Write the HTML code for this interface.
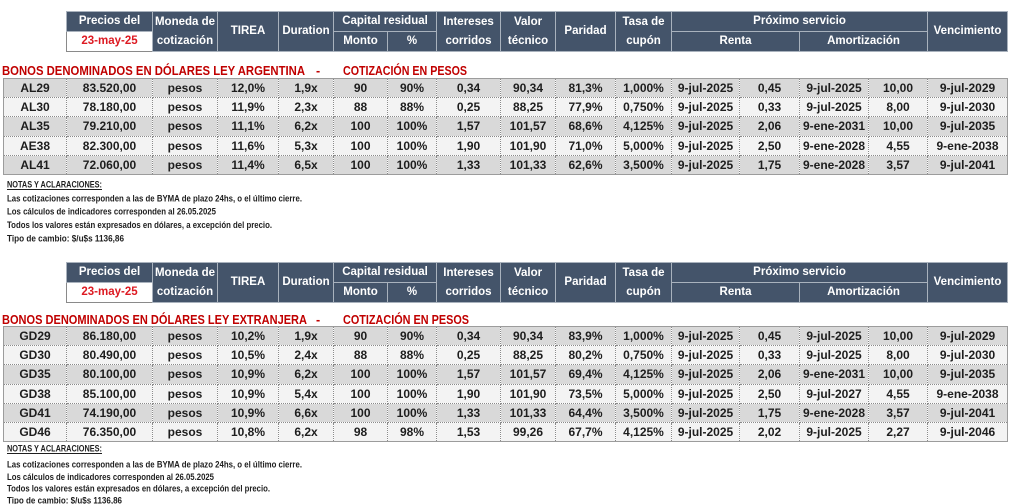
<!DOCTYPE html>
<html>
<head>
<meta charset="utf-8">
<style>
html,body{margin:0;padding:0;background:#fff;}
#pg{position:relative;width:1024px;height:504px;overflow:hidden;background:#fff;font-family:"Liberation Sans",Arial,sans-serif;}
table{border-collapse:collapse;table-layout:fixed;position:absolute;}
.hd{left:66px;width:941px;height:39px;}
.hd td{background:#44546a;color:#fff;font-weight:bold;font-size:11.5px;text-align:center;vertical-align:middle;padding:0;border:1px solid #a9b2bd;line-height:19px;height:18.5px;white-space:nowrap;overflow:hidden;}
.hd td.dt{background:#fff;color:#dd1a22;border:1px solid #8a8a8a;}
.dtab{left:3px;width:1004px;border:1px solid #9c9c9c;}
.dtab td{padding:0;height:18.2px;border:1px dotted #8a8a8a;text-align:center;vertical-align:middle;font-weight:bold;font-size:12px;color:#1e1e1e;white-space:nowrap;overflow:hidden;line-height:18px;}
.dtab tr.g td{background:#d9d9d9;}
.dtab tr.l td{background:#f3f3f3;}
svg{position:absolute;left:0;top:0;}
</style>
</head>
<body>
<div id="pg">

<!-- HEADER 1 -->
<table class="hd" style="top:11px;">
<colgroup><col style="width:86px"><col style="width:65px"><col style="width:61px"><col style="width:55px"><col style="width:54px"><col style="width:49px"><col style="width:64px"><col style="width:55px"><col style="width:60px"><col style="width:56px"><col style="width:68px"><col style="width:60px"><col style="width:69px"><col style="width:59px"><col style="width:80px"></colgroup>
<tr><td>Precios del</td><td rowspan="2">Moneda de<br>cotización</td><td rowspan="2">TIREA</td><td rowspan="2">Duration</td><td colspan="2">Capital residual</td><td rowspan="2">Intereses<br>corridos</td><td rowspan="2">Valor<br>técnico</td><td rowspan="2">Paridad</td><td rowspan="2">Tasa de<br>cupón</td><td colspan="4">Próximo servicio</td><td rowspan="2">Vencimiento</td></tr>
<tr><td class="dt">23-may-25</td><td>Monto</td><td>%</td><td colspan="2">Renta</td><td colspan="2">Amortización</td></tr>
</table>

<!-- DATA 1 -->
<table class="dtab" style="top:78px;">
<colgroup><col style="width:63px"><col style="width:86px"><col style="width:65px"><col style="width:61px"><col style="width:55px"><col style="width:54px"><col style="width:49px"><col style="width:64px"><col style="width:55px"><col style="width:60px"><col style="width:56px"><col style="width:68px"><col style="width:60px"><col style="width:69px"><col style="width:59px"><col style="width:80px"></colgroup>
<tr class="g"><td>AL29</td><td>83.520,00</td><td>pesos</td><td>12,0%</td><td>1,9x</td><td>90</td><td>90%</td><td>0,34</td><td>90,34</td><td>81,3%</td><td>1,000%</td><td>9-jul-2025</td><td>0,45</td><td>9-jul-2025</td><td>10,00</td><td>9-jul-2029</td></tr>
<tr class="l"><td>AL30</td><td>78.180,00</td><td>pesos</td><td>11,9%</td><td>2,3x</td><td>88</td><td>88%</td><td>0,25</td><td>88,25</td><td>77,9%</td><td>0,750%</td><td>9-jul-2025</td><td>0,33</td><td>9-jul-2025</td><td>8,00</td><td>9-jul-2030</td></tr>
<tr class="g"><td>AL35</td><td>79.210,00</td><td>pesos</td><td>11,1%</td><td>6,2x</td><td>100</td><td>100%</td><td>1,57</td><td>101,57</td><td>68,6%</td><td>4,125%</td><td>9-jul-2025</td><td>2,06</td><td>9-ene-2031</td><td>10,00</td><td>9-jul-2035</td></tr>
<tr class="l"><td>AE38</td><td>82.300,00</td><td>pesos</td><td>11,6%</td><td>5,3x</td><td>100</td><td>100%</td><td>1,90</td><td>101,90</td><td>71,0%</td><td>5,000%</td><td>9-jul-2025</td><td>2,50</td><td>9-ene-2028</td><td>4,55</td><td>9-ene-2038</td></tr>
<tr class="g"><td>AL41</td><td>72.060,00</td><td>pesos</td><td>11,4%</td><td>6,5x</td><td>100</td><td>100%</td><td>1,33</td><td>101,33</td><td>62,6%</td><td>3,500%</td><td>9-jul-2025</td><td>1,75</td><td>9-ene-2028</td><td>3,57</td><td>9-jul-2041</td></tr>
</table>

<!-- HEADER 2 -->
<table class="hd" style="top:262px;">
<colgroup><col style="width:86px"><col style="width:65px"><col style="width:61px"><col style="width:55px"><col style="width:54px"><col style="width:49px"><col style="width:64px"><col style="width:55px"><col style="width:60px"><col style="width:56px"><col style="width:68px"><col style="width:60px"><col style="width:69px"><col style="width:59px"><col style="width:80px"></colgroup>
<tr><td>Precios del</td><td rowspan="2">Moneda de<br>cotización</td><td rowspan="2">TIREA</td><td rowspan="2">Duration</td><td colspan="2">Capital residual</td><td rowspan="2">Intereses<br>corridos</td><td rowspan="2">Valor<br>técnico</td><td rowspan="2">Paridad</td><td rowspan="2">Tasa de<br>cupón</td><td colspan="4">Próximo servicio</td><td rowspan="2">Vencimiento</td></tr>
<tr><td class="dt">23-may-25</td><td>Monto</td><td>%</td><td colspan="2">Renta</td><td colspan="2">Amortización</td></tr>
</table>

<!-- DATA 2 -->
<table class="dtab" style="top:326px;">
<colgroup><col style="width:63px"><col style="width:86px"><col style="width:65px"><col style="width:61px"><col style="width:55px"><col style="width:54px"><col style="width:49px"><col style="width:64px"><col style="width:55px"><col style="width:60px"><col style="width:56px"><col style="width:68px"><col style="width:60px"><col style="width:69px"><col style="width:59px"><col style="width:80px"></colgroup>
<tr class="g"><td>GD29</td><td>86.180,00</td><td>pesos</td><td>10,2%</td><td>1,9x</td><td>90</td><td>90%</td><td>0,34</td><td>90,34</td><td>83,9%</td><td>1,000%</td><td>9-jul-2025</td><td>0,45</td><td>9-jul-2025</td><td>10,00</td><td>9-jul-2029</td></tr>
<tr class="l"><td>GD30</td><td>80.490,00</td><td>pesos</td><td>10,5%</td><td>2,4x</td><td>88</td><td>88%</td><td>0,25</td><td>88,25</td><td>80,2%</td><td>0,750%</td><td>9-jul-2025</td><td>0,33</td><td>9-jul-2025</td><td>8,00</td><td>9-jul-2030</td></tr>
<tr class="g"><td>GD35</td><td>80.100,00</td><td>pesos</td><td>10,9%</td><td>6,2x</td><td>100</td><td>100%</td><td>1,57</td><td>101,57</td><td>69,4%</td><td>4,125%</td><td>9-jul-2025</td><td>2,06</td><td>9-ene-2031</td><td>10,00</td><td>9-jul-2035</td></tr>
<tr class="l"><td>GD38</td><td>85.100,00</td><td>pesos</td><td>10,9%</td><td>5,4x</td><td>100</td><td>100%</td><td>1,90</td><td>101,90</td><td>73,5%</td><td>5,000%</td><td>9-jul-2025</td><td>2,50</td><td>9-jul-2027</td><td>4,55</td><td>9-ene-2038</td></tr>
<tr class="g"><td>GD41</td><td>74.190,00</td><td>pesos</td><td>10,9%</td><td>6,6x</td><td>100</td><td>100%</td><td>1,33</td><td>101,33</td><td>64,4%</td><td>3,500%</td><td>9-jul-2025</td><td>1,75</td><td>9-ene-2028</td><td>3,57</td><td>9-jul-2041</td></tr>
<tr class="l"><td>GD46</td><td>76.350,00</td><td>pesos</td><td>10,8%</td><td>6,2x</td><td>98</td><td>98%</td><td>1,53</td><td>99,26</td><td>67,7%</td><td>4,125%</td><td>9-jul-2025</td><td>2,02</td><td>9-jul-2025</td><td>2,27</td><td>9-jul-2046</td></tr>
</table>

<svg width="1024" height="504" viewBox="0 0 1024 504" font-family="Liberation Sans, Arial, sans-serif" font-weight="bold">
  <g fill="#c00000" font-size="12.5">
    <text x="2" y="75" textLength="303" lengthAdjust="spacingAndGlyphs">BONOS DENOMINADOS EN DÓLARES LEY ARGENTINA</text>
    <text x="316" y="75">-</text>
    <text x="343" y="75" textLength="124" lengthAdjust="spacingAndGlyphs">COTIZACIÓN EN PESOS</text>
    <text x="2" y="324" textLength="305" lengthAdjust="spacingAndGlyphs">BONOS DENOMINADOS EN DÓLARES LEY EXTRANJERA</text>
    <text x="316" y="324">-</text>
    <text x="343" y="324" textLength="126" lengthAdjust="spacingAndGlyphs">COTIZACIÓN EN PESOS</text>
  </g>
  <g fill="#1e1e1e" font-size="9.2">
    <text x="7" y="187.5" textLength="95" lengthAdjust="spacingAndGlyphs">NOTAS Y ACLARACIONES:</text>
    <line x1="7" y1="189.5" x2="102" y2="189.5" stroke="#1e1e1e" stroke-width="0.9"/>
    <text x="7" y="201.5" textLength="295" lengthAdjust="spacingAndGlyphs">Las cotizaciones corresponden a las de BYMA de plazo 24hs, o el último cierre.</text>
    <text x="7" y="214.5" textLength="209" lengthAdjust="spacingAndGlyphs">Los cálculos de indicadores corresponden al 26.05.2025</text>
    <text x="7" y="228" textLength="265" lengthAdjust="spacingAndGlyphs">Todos los valores están expresados en dólares, a excepción del precio.</text>
    <text x="7" y="241.5" textLength="117" lengthAdjust="spacingAndGlyphs">Tipo de cambio: $/u$s 1136,86</text>

    <text x="7" y="451.5" textLength="95" lengthAdjust="spacingAndGlyphs">NOTAS Y ACLARACIONES:</text>
    <line x1="7" y1="453.5" x2="102" y2="453.5" stroke="#1e1e1e" stroke-width="0.9"/>
    <text x="7" y="467.5" textLength="295" lengthAdjust="spacingAndGlyphs">Las cotizaciones corresponden a las de BYMA de plazo 24hs, o el último cierre.</text>
    <text x="7" y="480" textLength="207" lengthAdjust="spacingAndGlyphs">Los cálculos de indicadores corresponden al 26.05.2025</text>
    <text x="7" y="491.5" textLength="263" lengthAdjust="spacingAndGlyphs">Todos los valores están expresados en dólares, a excepción del precio.</text>
    <text x="7" y="503.5" textLength="115" lengthAdjust="spacingAndGlyphs">Tipo de cambio: $/u$s 1136,86</text>
  </g>
</svg>

</div>
</body>
</html>
